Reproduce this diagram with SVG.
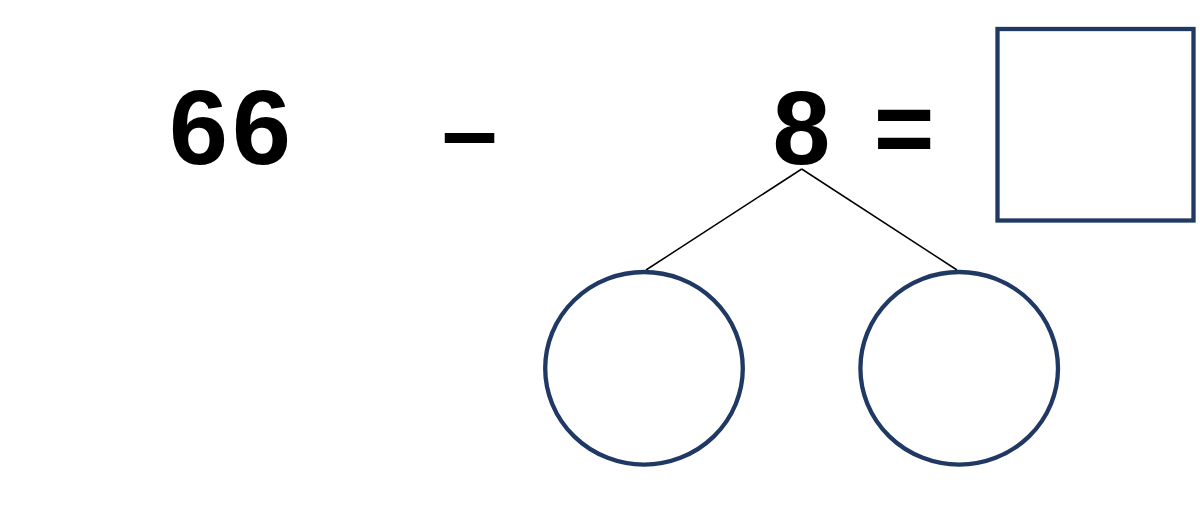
<svg xmlns="http://www.w3.org/2000/svg" width="1200" height="511" viewBox="0 0 1200 511">
<style>
.num{font-family:"Liberation Sans",Arial,sans-serif;font-weight:bold;font-size:104px;fill:#000}
.shape{fill:none;stroke:#1F3864;stroke-width:4.3}
.conn{stroke:#000;stroke-width:1.5;fill:none}
</style>
<rect width="1200" height="511" fill="#fff"/>
<g id="n66"><text class="num" x="169" y="164" letter-spacing="4" style="font-size:106px">66</text></g>
<g id="minus"><text class="num" x="469.5" y="165" text-anchor="middle" style="font-size:100px">–</text></g>
<g id="n8"><text class="num" x="801.5" y="164" text-anchor="middle">8</text></g>
<g id="eq"><text class="num" x="904" y="164" text-anchor="middle">=</text></g>
<g id="answer"><rect class="shape" x="997.5" y="29" width="196" height="191.5"/></g>
<g id="connectors">
<line class="conn" x1="801.7" y1="169" x2="646" y2="270"/>
<line class="conn" x1="801.7" y1="169" x2="957" y2="270"/>
</g>
<g id="partLeft"><ellipse class="shape" cx="644" cy="368.3" rx="98.8" ry="96.3"/></g>
<g id="partRight"><ellipse class="shape" cx="959.2" cy="368.3" rx="98.8" ry="96.3"/></g>
</svg>
